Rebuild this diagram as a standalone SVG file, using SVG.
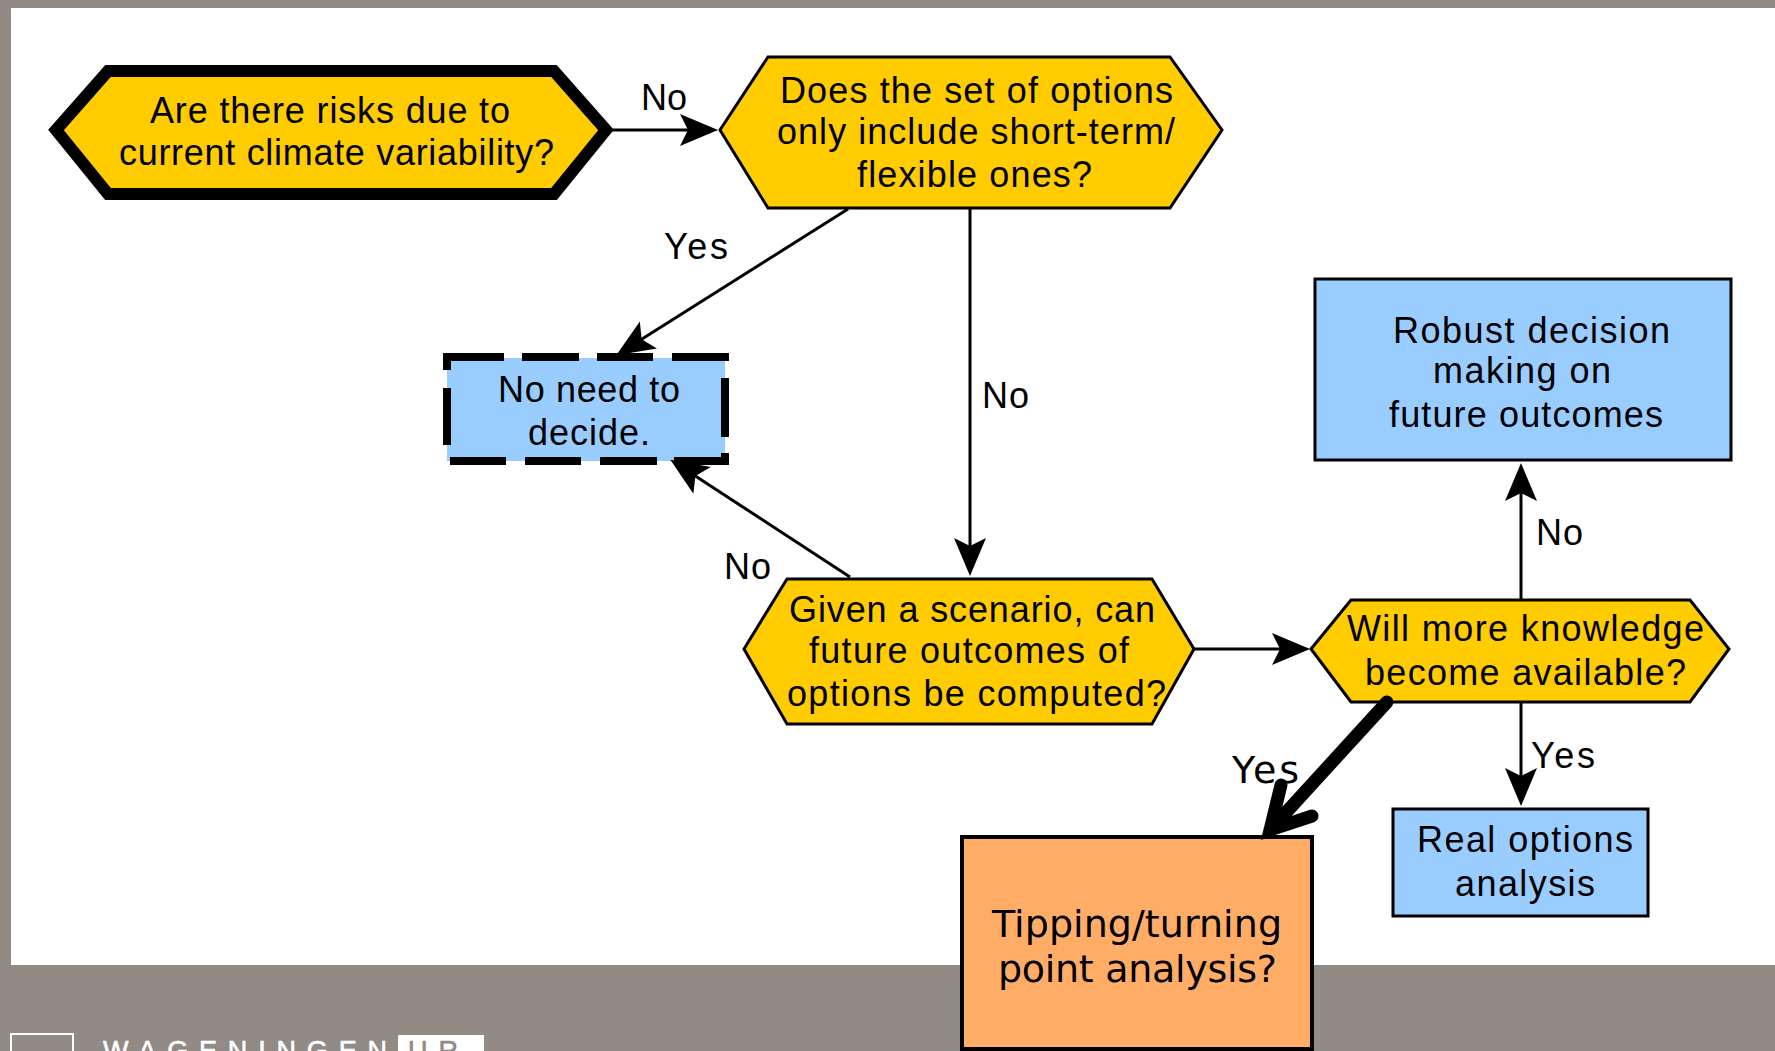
<svg xmlns="http://www.w3.org/2000/svg" width="1775" height="1051" viewBox="0 0 1775 1051">
<style>
.t{font-family:"Liberation Sans",Arial,sans-serif;font-size:36px;fill:#000;text-anchor:start}
.d{font-family:"DejaVu Sans",sans-serif;font-size:38px;fill:#000;text-anchor:start}
.y{fill:#ffcc00;stroke:#000;stroke-width:3}
.b{fill:#99ccff;stroke:#000;stroke-width:3}
.c{fill:none;stroke:#000;stroke-width:3;marker-end:url(#a)}
.dash{fill:none;stroke:#000;stroke-width:8}
.logo{font-family:"Liberation Sans",Arial,sans-serif;font-size:27px;stroke-width:.6}
</style>
<defs>
<marker id="a" markerUnits="userSpaceOnUse" markerWidth="44" markerHeight="36" refX="30" refY="16" orient="auto" overflow="visible">
<path d="M38,16 L0,0 L8,16 L0,32 Z" fill="#000"/>
</marker>
</defs>
<rect id="background" width="1775" height="1051" fill="#928a84"/>
<rect id="panel" x="11" y="8" width="1764" height="957" fill="#fff"/>
<g id="logo">
<rect x="11" y="1034" width="62" height="30" fill="none" stroke="#fff" stroke-width="2"/>
<text class="logo" x="103" y="1060" fill="#fff" stroke="#fff" textLength="284">WAGENINGEN</text>
<rect x="398" y="1035" width="86" height="30" fill="#fff"/>
<text class="logo" x="408" y="1060" fill="#928a84" stroke="#928a84" textLength="50">UR</text>
</g>
<g id="n1">
<polygon points="56,130 108,71 554,71 606,130 554,194 108,194" fill="#ffcc00" stroke="#000" stroke-width="12"/>
<text class="t" x="150" y="123" textLength="360">Are there risks due to</text>
<text class="t" x="119" y="165" textLength="435">current climate variability?</text>
</g>
<g id="n2">
<polygon class="y" points="720,130 768,57 1170,57 1222,130 1170,208 768,208"/>
<text class="t" x="780" y="103" textLength="393">Does the set of options</text>
<text class="t" x="777" y="144" textLength="398">only include short-term/</text>
<text class="t" x="857" y="187" textLength="235">flexible ones?</text>
</g>
<g id="n3">
<rect x="447" y="358" width="278" height="103" fill="#99ccff"/>
<path class="dash" d="M443,357H504M522,357H579M597,357H653M672,357H729M450,461H506M525,461H581M600,461H657M674,461H729M447,353V370M447,388V445M725,378V437M725,453V465"/>
<text class="t" x="498" y="402" textLength="182">No need to</text>
<text class="t" x="528" y="445" textLength="122">decide.</text>
</g>
<g id="n4">
<polygon class="y" points="744,649 787,579 1152,579 1194,649 1152,724 787,724"/>
<text class="t" x="789" y="622" textLength="366">Given a scenario, can</text>
<text class="t" x="809" y="663" textLength="320">future outcomes of</text>
<text class="t" x="787" y="706" textLength="379">options be computed?</text>
</g>
<g id="n5">
<polygon class="y" points="1311,649 1351,600 1690,600 1729,649 1690,702 1351,702"/>
<text class="t" x="1347" y="641" textLength="357">Will more knowledge</text>
<text class="t" x="1365" y="685" textLength="321">become available?</text>
</g>
<g id="n6">
<rect class="b" x="1315" y="279" width="416" height="181"/>
<text class="t" x="1393" y="343" textLength="277">Robust decision</text>
<text class="t" x="1433" y="383" textLength="178">making on</text>
<text class="t" x="1389" y="427" textLength="274">future outcomes</text>
</g>
<g id="n7">
<rect class="b" x="1393" y="809" width="255" height="107"/>
<text class="t" x="1417" y="852" textLength="216">Real options</text>
<text class="t" x="1455" y="896" textLength="140">analysis</text>
</g>
<g id="n8">
<rect x="962" y="837" width="350" height="212" fill="#ffad66" stroke="#000" stroke-width="4"/>
<text class="d" x="992" y="937" textLength="290">Tipping/turning</text>
<text class="d" x="998" y="982" textLength="279">point analysis?</text>
</g>
<g id="connectors">
<path class="c" d="M611,130H710"/>
<path class="c" d="M848,209L623,351"/>
<path class="c" d="M850,577L677,464"/>
<path class="c" d="M970,208V568"/>
<path class="c" d="M1194,649H1302"/>
<path class="c" d="M1521,599V471"/>
<path class="c" d="M1521,702V798"/>
<path d="M1387,702L1270,830M1281,785L1270,830L1312,816" fill="none" stroke="#000" stroke-width="13" stroke-linecap="round"/>
<text class="t" x="641" y="110" textLength="46">No</text>
<text class="t" x="664" y="259" textLength="64">Yes</text>
<text class="t" x="982" y="408" textLength="47">No</text>
<text class="t" x="724" y="579" textLength="47">No</text>
<text class="t" x="1536" y="545" textLength="47">No</text>
<text class="t" x="1531" y="768" textLength="64">Yes</text>
<text class="d" x="1232" y="783" textLength="67">Yes</text>
</g>
</svg>
